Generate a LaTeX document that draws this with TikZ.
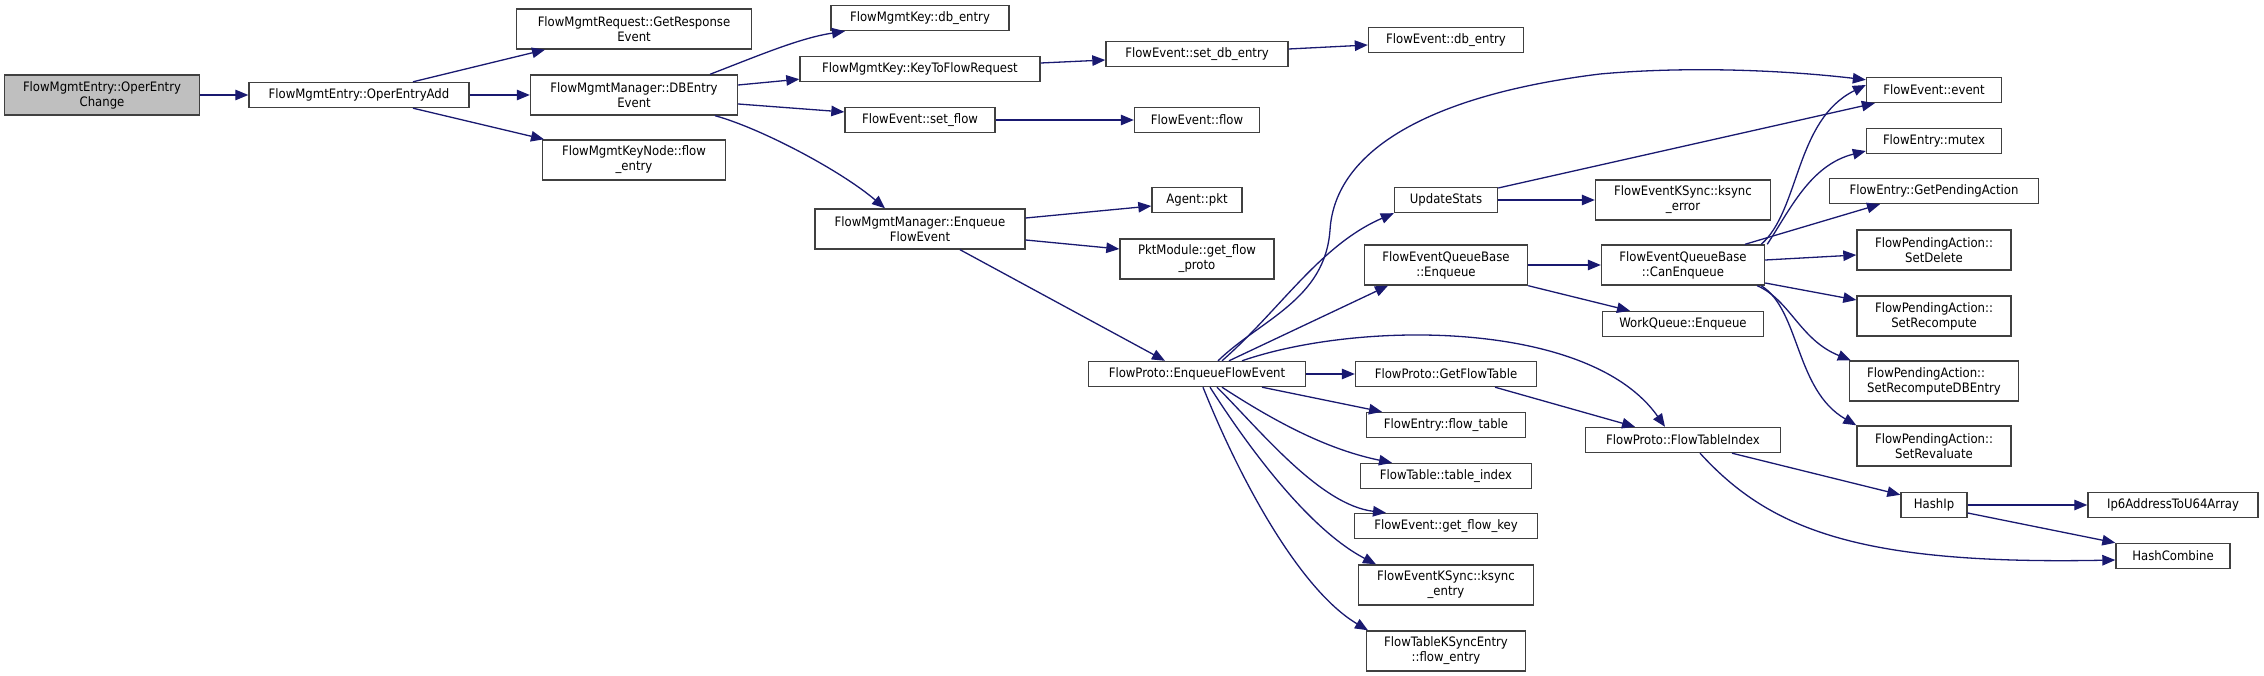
\documentclass[tikz,border=0pt]{standalone}
\usepackage{fontspec}
\setmainfont{DejaVu Sans Condensed}
\usetikzlibrary{arrows.meta,calc}
\definecolor{edgec}{HTML}{191970}
\definecolor{boxc}{HTML}{404040}
\definecolor{grayf}{HTML}{BFBFBF}
\tikzset{
  fn/.style={draw=boxc,line width=1.4pt,fill=white,inner sep=0pt,align=center,
    font=\fontsize{13}{15}\selectfont,text=black},
  e/.style={draw=edgec,line width=1.3pt,-{Triangle[length=13pt,width=10.5pt]},color=edgec}
}
\begin{document}
\begin{tikzpicture}[x=1pt,y=-1pt]
\useasboundingbox (0,0) rectangle (2264,676);
% nodes
\node[fn,fill=grayf,minimum width=195,minimum height=40] (oec) at (102,95) {FlowMgmtEntry::OperEntry\\Change};
\node[fn,minimum width=220,minimum height=25] (oea) at (359,95) {FlowMgmtEntry::OperEntryAdd};
\node[fn,minimum width=235,minimum height=40] (gre) at (634,29) {FlowMgmtRequest::GetResponse\\Event};
\node[fn,minimum width=207,minimum height=40] (dbe) at (634,95) {FlowMgmtManager::DBEntry\\Event};
\node[fn,minimum width=183,minimum height=40] (kn) at (634,160) {FlowMgmtKeyNode::flow\\\_entry};
\node[fn,minimum width=178,minimum height=25] (kdb) at (920,18) {FlowMgmtKey::db\_entry};
\node[fn,minimum width=240,minimum height=25] (ktf) at (920,69) {FlowMgmtKey::KeyToFlowRequest};
\node[fn,minimum width=150,minimum height=25] (sf) at (920,120) {FlowEvent::set\_flow};
\node[fn,minimum width=125,minimum height=25] (ff) at (1197,120) {FlowEvent::flow};
\node[fn,minimum width=182,minimum height=25] (sdb) at (1197,54) {FlowEvent::set\_db\_entry};
\node[fn,minimum width=155,minimum height=25] (edb) at (1446,40) {FlowEvent::db\_entry};
\node[fn,minimum width=210,minimum height=40] (mef) at (920,229) {FlowMgmtManager::Enqueue\\FlowEvent};
\node[fn,minimum width=90,minimum height=25] (apkt) at (1197,200) {Agent::pkt};
\node[fn,minimum width=154,minimum height=40] (pkm) at (1197,259) {PktModule::get\_flow\\\_proto};
\node[fn,minimum width=217,minimum height=25] (fpe) at (1197,374) {FlowProto::EnqueueFlowEvent};
\node[fn,minimum width=103,minimum height=25] (us) at (1446,200) {UpdateStats};
\node[fn,minimum width=163,minimum height=40] (fqe) at (1446,265) {FlowEventQueueBase\\::Enqueue};
\node[fn,minimum width=175,minimum height=40] (kse) at (1683,200) {FlowEventKSync::ksync\\\_error};
\node[fn,minimum width=163,minimum height=40] (cen) at (1683,265) {FlowEventQueueBase\\::CanEnqueue};
\node[fn,minimum width=161,minimum height=25] (wqe) at (1683,324) {WorkQueue::Enqueue};
\node[fn,minimum width=135,minimum height=25] (fev) at (1934,90) {FlowEvent::event};
\node[fn,minimum width=135,minimum height=25] (mtx) at (1934,141) {FlowEntry::mutex};
\node[fn,minimum width=209,minimum height=25] (gpa) at (1934,191) {FlowEntry::GetPendingAction};
\node[fn,minimum width=154,minimum height=40] (sdel) at (1934,250) {FlowPendingAction::\\SetDelete};
\node[fn,minimum width=154,minimum height=40] (srec) at (1934,316) {FlowPendingAction::\\SetRecompute};
\node[fn,minimum width=169,minimum height=40,align=left] (srdb) at (1934,381) {FlowPendingAction::\\SetRecomputeDBEntry};
\node[fn,minimum width=154,minimum height=40] (srev) at (1934,446) {FlowPendingAction::\\SetRevaluate};
\node[fn,minimum width=181,minimum height=25] (gft) at (1446,374) {FlowProto::GetFlowTable};
\node[fn,minimum width=195,minimum height=25] (fti) at (1683,440) {FlowProto::FlowTableIndex};
\node[fn,minimum width=159,minimum height=25] (fft) at (1446,425) {FlowEntry::flow\_table};
\node[fn,minimum width=171,minimum height=25] (tix) at (1446,476) {FlowTable::table\_index};
\node[fn,minimum width=183,minimum height=25] (gfk) at (1446,526) {FlowEvent::get\_flow\_key};
\node[fn,minimum width=175,minimum height=40] (kse2) at (1446,585) {FlowEventKSync::ksync\\\_entry};
\node[fn,minimum width=159,minimum height=40] (tkf) at (1446,651) {FlowTableKSyncEntry\\::flow\_entry};
\node[fn,minimum width=66,minimum height=25] (hip) at (1934,505) {HashIp};
\node[fn,minimum width=170,minimum height=25] (ip6) at (2173,505) {Ip6AddressToU64Array};
\node[fn,minimum width=114,minimum height=25] (hc) at (2173,556) {HashCombine};
% edges
\draw[e] (oec) -- (oea);
\draw[e] ([xshift=54]oea.north) -- ([xshift=-89]gre.south);
\draw[e] (oea) -- (dbe);
\draw[e] ([xshift=54]oea.south) -- ([xshift=-90]kn.north);
\draw[e] ([xshift=76]dbe.north) .. controls (760,55) and (800,38) .. ([xshift=-75]kdb.south);
\draw[e] ([yshift=10]dbe.east) -- ([yshift=3]ktf.south west);
\draw[e] ([yshift=-9]dbe.east) -- ([yshift=8]sf.west);
\draw[e] ([xshift=81]dbe.south) .. controls (760,128) and (840,170) .. ([xshift=-35]mef.north);
\draw[e] ([yshift=6]ktf.east) -- ([yshift=-6]sdb.west);
\draw[e] ([yshift=5]sdb.east) -- ([yshift=-5]edb.west);
\draw[e] (sf) -- (ff);
\draw[e] ([yshift=11]mef.east) -- ([yshift=-6]apkt.west);
\draw[e] ([yshift=-11]mef.east) -- ([yshift=10]pkm.west);
\draw[e] ([xshift=40]mef.south) -- ([xshift=-32]fpe.north);
\draw[e] ([xshift=21]fpe.north) .. controls (1260,320) and (1325,300) .. (1330,230)
   .. controls (1335,150) and (1430,95) .. (1600,74)
   .. controls (1700,65) and (1800,72) .. ([yshift=-3]fev.north west);
\draw[e] ([xshift=25]fpe.north) .. controls (1280,310) and (1320,245) .. (us.south west);
\draw[e] ([xshift=32]fpe.north) -- ([xshift=-58]fqe.south);
\draw[e] ([xshift=45]fpe.north) .. controls (1360,320) and (1590,320) .. ([xshift=-18]fti.north);
\draw[e] (fpe) -- (gft);
\draw[e] ([xshift=65]fpe.south) -- ([xshift=-64]fft.north);
\draw[e] ([xshift=25]fpe.south) .. controls (1280,425) and (1330,450) .. ([xshift=-54]tix.north);
\draw[e] ([xshift=20]fpe.south) .. controls (1260,430) and (1320,505) .. ([xshift=-60]gfk.north);
\draw[e] ([xshift=13]fpe.south) .. controls (1250,450) and (1310,530) .. ([xshift=-70]kse2.north);
\draw[e] ([xshift=6]fpe.south) .. controls (1240,480) and (1300,590) .. ([xshift=-78]tkf.north);
\draw[e] ([yshift=12]us.east) -- ([xshift=9]fev.south west);
\draw[e] (us) -- (kse);
\draw[e] (fqe) -- (cen);
\draw[e] (fqe.south east) -- ([xshift=-53]wqe.north);
\draw[e] ([xshift=-4]cen.north east) .. controls (1800,210) and (1795,120) .. ([yshift=5]fev.west);
\draw[e] ([xshift=2]cen.north east) .. controls (1790,210) and (1810,165) .. ([yshift=-10]mtx.west);
\draw[e] ([xshift=62]cen.north) -- ([xshift=-54]gpa.south);
\draw[e] ([yshift=5]cen.east) -- ([yshift=-5]sdel.west);
\draw[e] ([yshift=-18]cen.east) -- ([yshift=16]srec.west);
\draw[e] ([xshift=-8]cen.south east) .. controls (1790,300) and (1800,340) .. ([xshift=2]srdb.north west);
\draw[e] ([xshift=-4]cen.south east) .. controls (1800,310) and (1795,390) .. (srev.north west);
\draw[e] ([xshift=49]gft.south) -- ([xshift=-48]fti.north);
\draw[e] ([xshift=49]fti.south) -- ([yshift=-3]hip.north west);
\draw[e] ([xshift=17]fti.south) .. controls (1770,530) and (1860,565) .. ([yshift=-4]hc.west);
\draw[e] (hip) -- (ip6);
\draw[e] ([yshift=-8]hip.east) -- (hc.north west);
\end{tikzpicture}
\end{document}
